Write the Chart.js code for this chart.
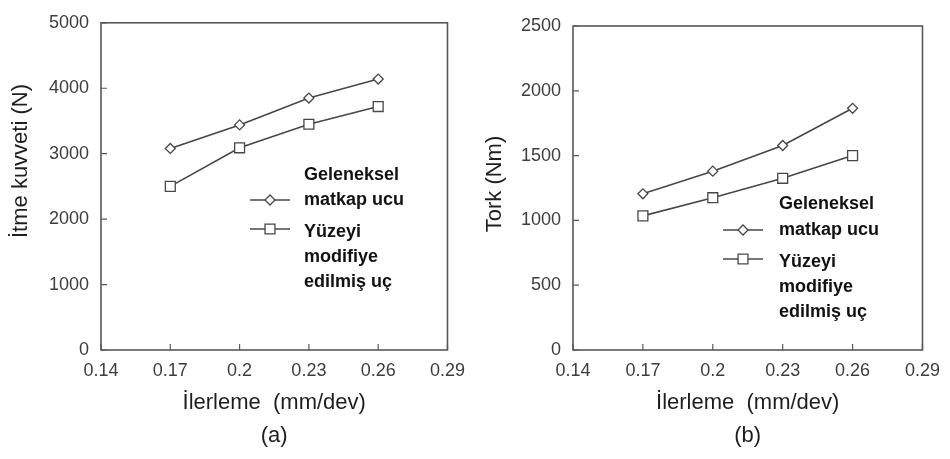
<!DOCTYPE html>
<html>
<head>
<meta charset="utf-8">
<script src="https://cdn.jsdelivr.net/npm/chart.js@4.4.1/dist/chart.umd.min.js"></script>
<style>
  body { margin: 0; background: #fff; width: 950px; height: 459px; position: relative; overflow: hidden; }
  canvas { position: absolute; top: 0; }
  #thrust { left: 0; }
  #torque { left: 475px; }
</style>
</head>
<body>
<canvas id="thrust" width="475" height="459"></canvas>
<canvas id="torque" width="475" height="459"></canvas>
<script>
// feed rate (mm/dev) and measured values
var feeds = [0.17, 0.2, 0.23, 0.26];
var feedTicks = [0.14, 0.17, 0.2, 0.23, 0.26, 0.29];
var thrustConventional = [3080, 3440, 3850, 4140];
var thrustModified = [2500, 3090, 3450, 3720];
var torqueConventional = [1205, 1380, 1578, 1865];
var torqueModified = [1035, 1175, 1325, 1500];
var seriesNames = [['Geleneksel', 'matkap ucu'], ['Yüzeyi', 'modifiye', 'edilmiş uç']];
var seriesMarkers = ['rectRot', 'rect'];

Chart.defaults.font.family = "'Liberation Sans', Arial, sans-serif";

var LINE = '#474747';

// box around the plot + small inward tick marks
var frame = {
  id: 'frame',
  beforeDatasetsDraw: function(chart) {
    var ctx = chart.ctx, a = chart.chartArea;
    var xs = chart.scales.x, ys = chart.scales.y;
    ctx.save();
    ctx.strokeStyle = '#585858';
    ctx.lineWidth = 1.6;
    ctx.strokeRect(a.left, a.top, a.right - a.left, a.bottom - a.top);
    ctx.lineWidth = 1.2;
    ctx.beginPath();
    xs.ticks.forEach(function(t, i) {
      var px = xs.getPixelForTick(i);
      ctx.moveTo(px, a.bottom);
      ctx.lineTo(px, a.bottom - 6);
    });
    ys.ticks.forEach(function(t, i) {
      var py = ys.getPixelForTick(i);
      ctx.moveTo(a.left, py);
      ctx.lineTo(a.left + 6, py);
    });
    ctx.stroke();
    ctx.restore();
  }
};

// rotated y-axis title, placed a bit above the axis middle
var sideTitle = {
  id: 'sideTitle',
  afterDraw: function(chart, args, opts) {
    var ctx = chart.ctx;
    ctx.save();
    ctx.translate(opts.x, opts.y);
    ctx.rotate(-Math.PI / 2);
    ctx.font = '22px "Liberation Sans", Arial, sans-serif';
    ctx.fillStyle = '#1e1e1e';
    ctx.textAlign = 'center';
    ctx.textBaseline = 'middle';
    ctx.fillText(opts.text, 0, 0);
    ctx.restore();
  }
};

// legend inside the plot: line + marker, label on several lines
var boxLegend = {
  id: 'boxLegend',
  afterDraw: function(chart, args, opts) {
    var ctx = chart.ctx;
    ctx.save();
    ctx.font = 'bold 18px "Liberation Sans", Arial, sans-serif';
    ctx.textBaseline = 'middle';
    chart.data.datasets.forEach(function(ds, i) {
      var rows = opts.rows[i];
      ctx.fillStyle = '#111';
      seriesNames[i].forEach(function(txt, j) {
        ctx.fillText(txt, opts.textX, rows[j]);
      });
      var my = rows[opts.markerRow[i]] - (i === 0 ? 0 : 3);
      ctx.strokeStyle = LINE;
      ctx.lineWidth = 1.5;
      ctx.beginPath();
      ctx.moveTo(opts.lineX, my);
      ctx.lineTo(opts.lineX + 40, my);
      ctx.stroke();
      ctx.fillStyle = '#fff';
      ctx.lineWidth = 1.3;
      Chart.helpers.drawPoint(ctx, {
        pointStyle: ds.pointStyle, radius: ds.pointRadius, rotation: 0, borderWidth: 1.3
      }, opts.lineX + 20, my);
    });
    ctx.restore();
  }
};

function series(vals) {
  return vals.map(function(v, i) { return { x: feeds[i], y: v }; });
}

function makeChart(id, cfg) {
  var datasets = [cfg.conventional, cfg.modified].map(function(vals, i) {
    return {
      label: seriesNames[i].join(' '),
      data: series(vals),
      borderColor: LINE,
      borderWidth: 1.6,
      pointStyle: seriesMarkers[i],
      pointRadius: i === 0 ? 5 : 7,
      pointBackgroundColor: '#fff',
      pointBorderColor: LINE,
      pointBorderWidth: 1.3,
      tension: 0
    };
  });
  return new Chart(document.getElementById(id), {
    type: 'line',
    data: { datasets: datasets },
    options: {
      responsive: false,
      animation: false,
      layout: { padding: { left: 0, right: cfg.padRight, top: cfg.padTop, bottom: 0 } },
      scales: {
        x: {
          type: 'linear',
          min: 0.14,
          max: 0.29,
          afterBuildTicks: function(s) { s.ticks = feedTicks.map(function(v) { return { value: v }; }); },
          afterFit: function(s) { s.height = 109; },
          grid: { display: false, drawTicks: false },
          border: { display: false },
          ticks: {
            padding: 10,
            color: '#3d3d3d',
            font: { size: 18 },
            maxRotation: 0,
            callback: function(v) { return String(v); }
          },
          title: {
            display: true,
            text: ['İlerleme  (mm/dev)', cfg.tag],
            color: '#1e1e1e',
            font: { size: 22, lineHeight: 1.5 },
            padding: { top: 0, bottom: 7 }
          }
        },
        y: {
          min: 0,
          max: cfg.yMax,
          afterFit: function(s) { s.width = cfg.yWidth; },
          grid: { display: false, drawTicks: false },
          border: { display: false },
          ticks: {
            stepSize: cfg.yStep,
            padding: 12,
            color: '#3d3d3d',
            font: { size: 18 },
            callback: function(v) { return String(v); }
          },
          title: { display: false }
        }
      },
      plugins: {
        legend: { display: false },
        tooltip: { enabled: false },
        boxLegend: cfg.legend,
        sideTitle: cfg.yTitle
      }
    },
    plugins: [frame, boxLegend, sideTitle]
  });
}

makeChart('thrust', {
  tag: '(a)',
  yTitle: { text: 'İtme kuvveti (N)', x: 21, y: 161 },
  yMax: 5000,
  yStep: 1000,
  yWidth: 101,
  padRight: 17,
  padTop: 13,
  conventional: thrustConventional,
  modified: thrustModified,
  legend: { lineX: 250, textX: 304, rows: [[175, 200], [232, 257, 282]], markerRow: [1, 0] }
});

makeChart('torque', {
  tag: '(b)',
  yTitle: { text: 'Tork (Nm)', x: 20, y: 184 },
  yMax: 2500,
  yStep: 500,
  yWidth: 98,
  padRight: 23,
  padTop: 26,
  conventional: torqueConventional,
  modified: torqueModified,
  legend: { lineX: 248, textX: 304, rows: [[204, 230], [262, 287, 312]], markerRow: [1, 0] }
});
</script>
</body>
</html>
